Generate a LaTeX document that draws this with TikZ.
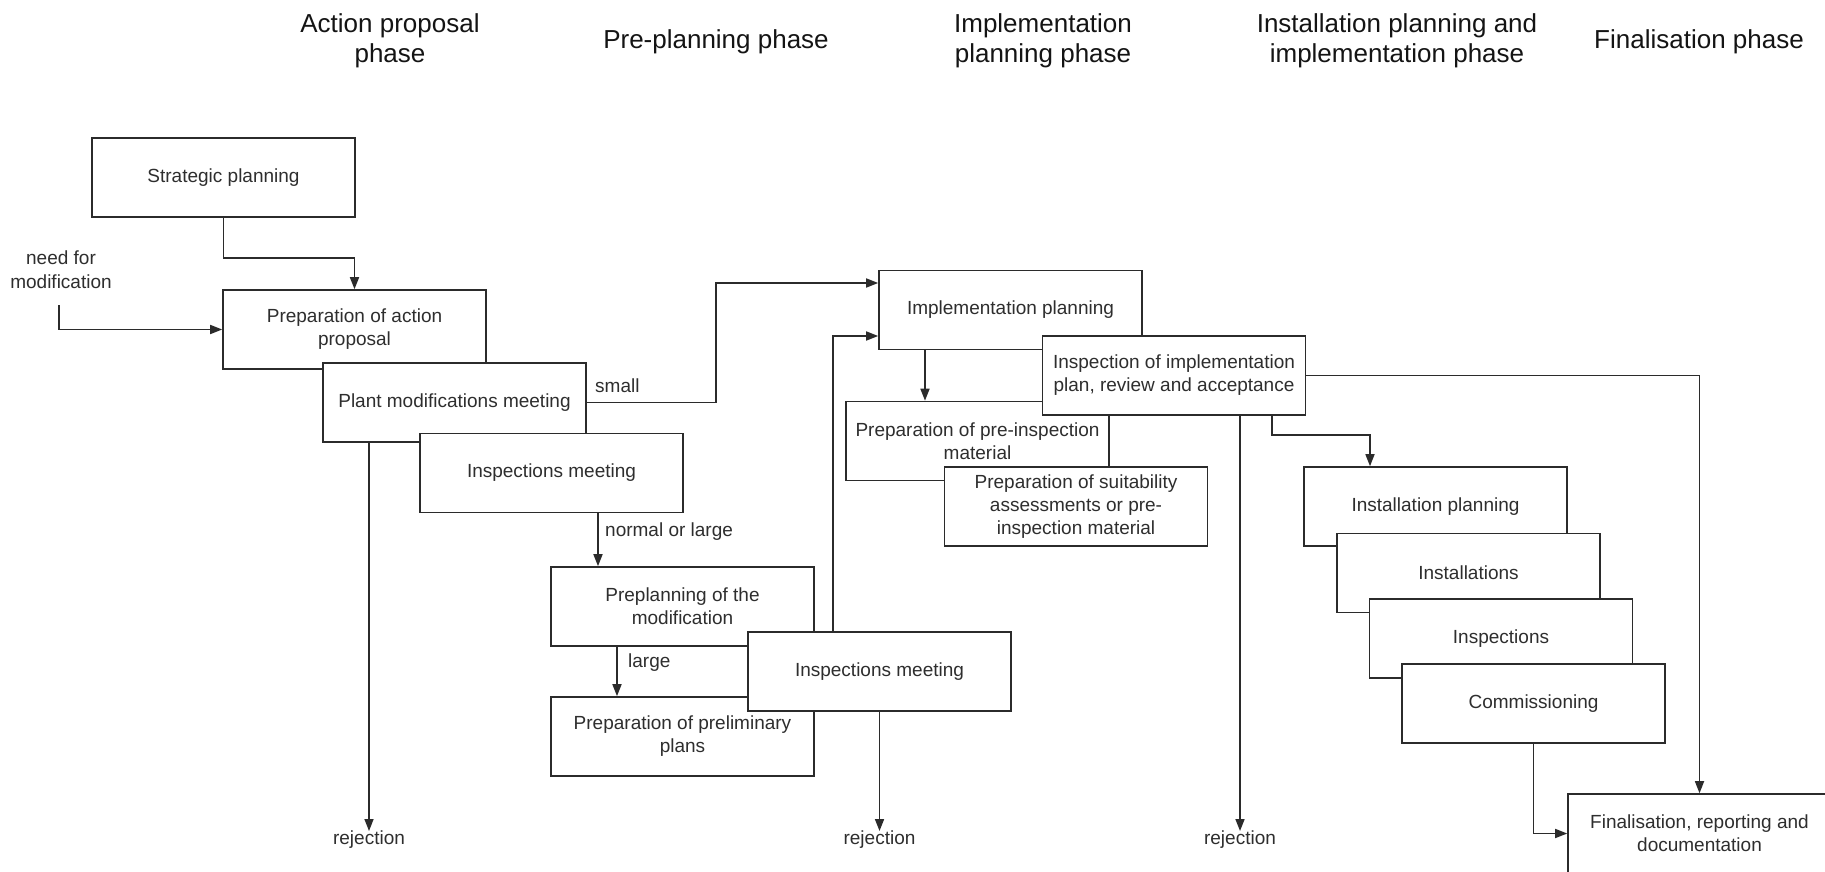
\documentclass[tikz,border=0pt]{standalone}
\usepackage{fontspec}
\setmainfont{Liberation Sans}
\usetikzlibrary{arrows.meta,calc}
\definecolor{ink}{HTML}{2B2B2B}
\definecolor{txt}{HTML}{2E2E2E}
\begin{document}
\begin{tikzpicture}[x=1pt,y=-1pt,
  box/.style={draw=ink, line width=1.6pt, fill=white, minimum width=263pt,
    minimum height=79pt, inner sep=0pt, align=center, text=txt,
    font=\fontsize{19}{23}\selectfont},
  phase/.style={align=center, text=black!92, font=\fontsize{26}{30}\selectfont},
  lbl/.style={text=txt, font=\fontsize{19}{24}\selectfont, inner sep=0pt, align=center},
  arr/.style={draw=ink, line width=1.6pt, -{Triangle[length=12pt,width=9pt]}},
  link/.style={draw=ink, line width=1.6pt}
]
\clip (0,0) rectangle (1825,871);
\fill[white] (0,0) rectangle (1825,871);

% phase headings
\node[phase] (h1) at (390,41) {Action proposal\\phase};
\node[phase] (h2) at (716,42) {Pre-planning phase};
\node[phase] (h3) at (1043,41) {Implementation\\planning phase};
\node[phase] (h4) at (1397,41) {Installation planning and\\implementation phase};
\node[phase] (h5) at (1699,42) {Finalisation phase};

% action proposal phase
\node[box] (strat) at (223.5,177.5) {Strategic planning};
\node[box] (prep) at (354.5,329.5) {Preparation of action\\proposal};
\node[box] (plant) at (454.5,402.5) {Plant modifications meeting};
\node[box] (insp1) at (551.5,473) {Inspections meeting};

% pre-planning phase
\node[box] (preplan) at (682.5,606.5) {Preplanning of the\\modification};
\node[box] (prelim) at (682.5,736.5) {Preparation of preliminary\\plans};
\node[box] (insp2) at (879.5,671.5) {Inspections meeting};

% implementation planning phase
\node[box] (impl) at (1010.5,310) {Implementation planning};
\node[box] (preinsp) at (977.5,441) {Preparation of pre-inspection\\material};
\node[box] (suit) at (1076,506.5) {Preparation of suitability\\assessments or pre-\\inspection material};
\node[box] (inspimpl) at (1174,375.5) {Inspection of implementation\\plan, review and acceptance};

% installation planning and implementation phase
\node[box] (instplan) at (1435.5,506.5) {Installation planning};
\node[box] (install) at (1468.5,573) {Installations};
\node[box] (inspect) at (1501,638.5) {Inspections};
\node[box] (comm) at (1533.5,703.5) {Commissioning};

% finalisation phase
\node[box] (final) at (1699.5,833.5) {Finalisation, reporting and\\documentation};

% free labels
\node[lbl] (need) at (61,270) {need for\\modification};
\coordinate (needstart) at (59,305);
\node[lbl, anchor=north] (rej1) at (369,831) {rejection};
\node[lbl, anchor=north] (rej2) at (879.5,831) {rejection};
\node[lbl, anchor=north] (rej3) at (1240,831) {rejection};
\node[lbl, anchor=west] (small) at (595,386) {small};
\node[lbl, anchor=west] (normal) at (605,532) {normal or large};
\node[lbl, anchor=west] (large) at (628,663) {large};

% connectors
\draw[arr] (strat.south) -- ++(0,40) -| (prep.north);
\draw[arr] (needstart) |- (prep.west);
\draw[arr] (plant.east) -- ++(129,0) |- ([yshift=27pt]impl.west);
\draw[arr] ([xshift=-85.5pt]plant.south) -- (rej1.north);
\draw[arr] ([xshift=46.5pt]insp1.south) -- ([xshift=46.5pt]insp1.south |- preplan.north);
\draw[arr] ([xshift=-65.5pt]preplan.south) -- ([xshift=-65.5pt]prelim.north);
\draw[arr] ([xshift=-46.5pt]insp2.north) |- ([yshift=-26pt]impl.west);
\draw[arr] (insp2.south) -- (rej2.north);
\draw[arr] ([xshift=-85.5pt]impl.south) -- ([xshift=-85.5pt]impl.south |- preinsp.north);
\draw[arr] ([xshift=66pt]inspimpl.south) -- (rej3.north);
\draw[arr] ([xshift=98pt]inspimpl.south) -- ++(0,19) -| ([xshift=-65.5pt]instplan.north);
\draw[arr] (inspimpl.east) -| (final.north);
\draw[arr] (comm.south) |- (final.west);
\end{tikzpicture}
\end{document}
